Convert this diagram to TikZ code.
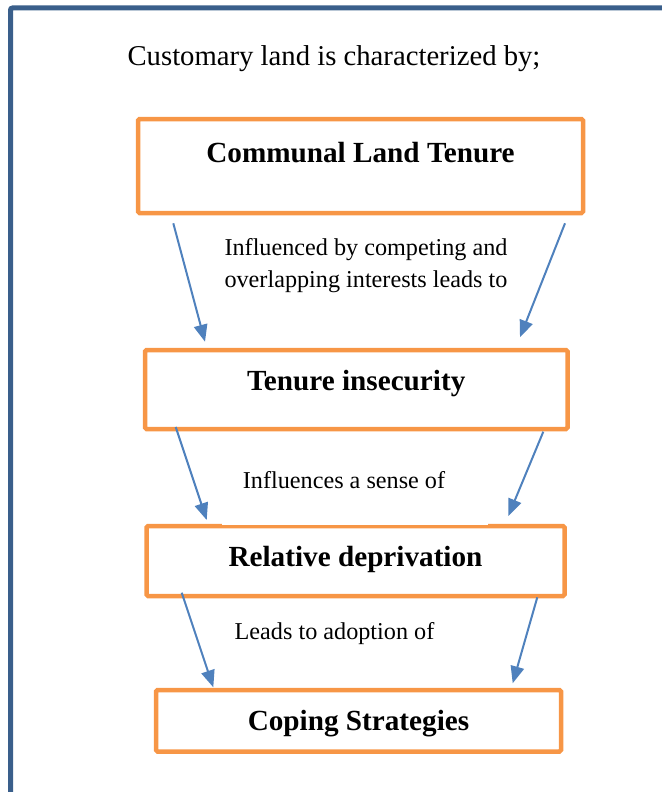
\documentclass[tikz,border=0pt]{standalone}
\usepackage{fontspec}
\setmainfont{Liberation Serif}
\usetikzlibrary{arrows.meta}
\definecolor{frameblue}{HTML}{3A5F8B}
\definecolor{boxorange}{HTML}{F79646}
\definecolor{arrowblue}{HTML}{4F81BD}
\tikzset{
  box/.style={draw=boxorange, line width=4.5pt, rounded corners=1.5pt, inner sep=0pt,
    font=\fontsize{29.2}{34}\selectfont\bfseries, anchor=base, align=center},
  lbl/.style={inner sep=0pt, anchor=base, align=center, font=\fontsize{24.2}{31.5}\selectfont},
  arr/.style={draw=arrowblue, line width=2pt, -{Triangle[length=17pt,width=13.5pt]}}
}
\begin{document}
\begin{tikzpicture}[x=1pt,y=-1pt]
\useasboundingbox (0,0) rectangle (661,792);
% outer frame
\draw[frameblue, line width=5pt, rounded corners=2pt] (10.5,820) -- (10.5,8) -- (690,8);
% title
\node[inner sep=0pt, anchor=base, font=\fontsize{28.7}{34}\selectfont] (title) at (334,66) {Customary land is characterized by;};
% boxes
\node[box, minimum width=445pt, text height=43pt, text depth=51pt] (b1) at (360.5,162) {Communal Land Tenure};
\node[box, minimum width=422.5pt, text height=40pt, text depth=39pt] (b2) at (356.25,390) {Tenure insecurity};
\node[box, minimum width=418pt, text height=40.7pt, text depth=29.3pt] (b3) at (355.5,566.7) {Relative deprivation};
\node[box, minimum width=405pt, text height=40pt, text depth=21.5pt] (b4) at (358.5,730) {Coping Strategies};
% label background partly covering box 3 top
\fill[white] (222,505) rectangle (488,524.8);
% labels
\node[lbl] (l1) at (366,287) {Influenced by competing and\\overlapping interests leads to};
\node[lbl] (l2) at (344,488.3) {Influences a sense of};
\node[lbl] (l3) at (334.5,639.3) {Leads to adoption of};
% arrow end points
\coordinate (a1ls) at (173.3,223.3); \coordinate (a1le) at (205,341.7);
\coordinate (a1rs) at (565,223.3);   \coordinate (a1re) at (520,337.3);
\coordinate (a2ls) at (175.7,427);   \coordinate (a2le) at (206.7,520);
\coordinate (a2rs) at (543.3,431.7); \coordinate (a2re) at (508.3,516);
\coordinate (a3ls) at (181.7,592.7); \coordinate (a3le) at (213.3,687.3);
\coordinate (a3rs) at (537.3,597.3); \coordinate (a3re) at (512.7,683.3);
\draw[arr] (a1ls) -- (a1le);
\draw[arr] (a1rs) -- (a1re);
\draw[arr] (a2ls) -- (a2le);
\draw[arr] (a2rs) -- (a2re);
\draw[arr] (a3ls) -- (a3le);
\draw[arr] (a3rs) -- (a3re);
\end{tikzpicture}
\end{document}
